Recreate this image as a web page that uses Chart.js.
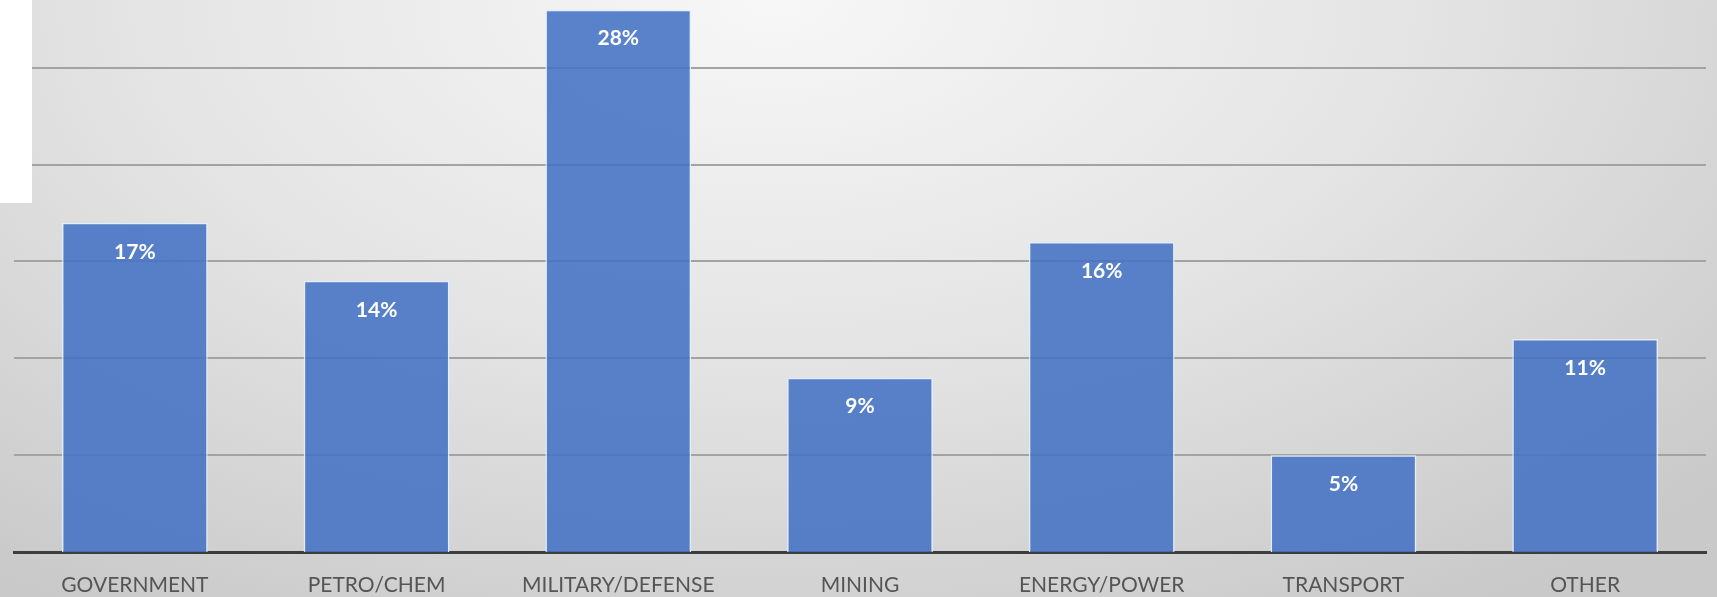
<!DOCTYPE html>
<html>
<head>
<meta charset="utf-8">
<script src="https://cdn.jsdelivr.net/npm/chart.js@4/dist/chart.umd.min.js"></script>
<style>
  html, body { margin: 0; padding: 0; }
  body {
    width: 1717px;
    height: 597px;
    overflow: hidden;
    background: radial-gradient(ellipse 75% 120% at 45% 0%, #f7f7f7 0%, #e4e4e4 50%, #c9c9c9 100%);
    position: relative;
  }
  #wrap { position: absolute; left: 0; top: 0; width: 1717px; height: 597px; }
  #corner { position: absolute; left: 0; top: 0; width: 32px; height: 203px; background: #fff; }
</style>
</head>
<body>
<div id="wrap"><canvas id="sectors"></canvas></div>
<div id="corner"></div>
<script>
const sectors = ['GOVERNMENT', 'PETRO/CHEM', 'MILITARY/DEFENSE', 'MINING', 'ENERGY/POWER', 'TRANSPORT', 'OTHER'];
const shares = [17, 14, 28, 9, 16, 5, 11];
const gridSteps = [5, 10, 15, 20, 25];

const FONT = "Lato, 'Open Sans', sans-serif";

// white percent labels inside the top of each bar
const barLabels = {
  id: 'barLabels',
  afterDatasetsDraw(chart) {
    const ctx = chart.ctx;
    const meta = chart.getDatasetMeta(0);
    ctx.save();
    ctx.fillStyle = '#ffffff';
    ctx.font = `bold 21px ${FONT}`;
    ctx.textAlign = 'center';
    ctx.textBaseline = 'middle';
    meta.data.forEach((bar, i) => {
      ctx.fillText(shares[i] + '%', bar.x, bar.y + 29);
    });
    ctx.restore();
  }
};

new Chart(document.getElementById('sectors'), {
  type: 'bar',
  data: {
    labels: sectors,
    datasets: [{
      data: shares,
      backgroundColor: 'rgba(68,114,196,0.88)',
      borderColor: 'rgba(225,238,252,0.95)',
      borderWidth: 1.5,
      categoryPercentage: 1,
      barPercentage: 0.603
    }]
  },
  options: {
    responsive: true,
    maintainAspectRatio: false,
    animation: false,
    layout: { padding: { left: 14, right: 11, top: 0, bottom: 0 } },
    plugins: { legend: { display: false }, tooltip: { enabled: false } },
    scales: {
      x: {
        grid: { display: false },
        border: { color: '#3d3d3d', width: 3 },
        ticks: { color: '#555555', font: { family: FONT, size: 21 }, padding: 13 },
        afterFit(scale) { scale.height = 45; }
      },
      y: {
        min: 0,
        max: 28.5,
        afterBuildTicks(scale) {
          scale.ticks = gridSteps.map(v => ({ value: v }));
        },
        ticks: { display: false },
        grid: { color: '#a3a3a3', lineWidth: 2, drawTicks: false },
        border: { display: false },
        afterFit(scale) { scale.width = 0; }
      }
    }
  },
  plugins: [barLabels]
});
</script>
</body>
</html>
